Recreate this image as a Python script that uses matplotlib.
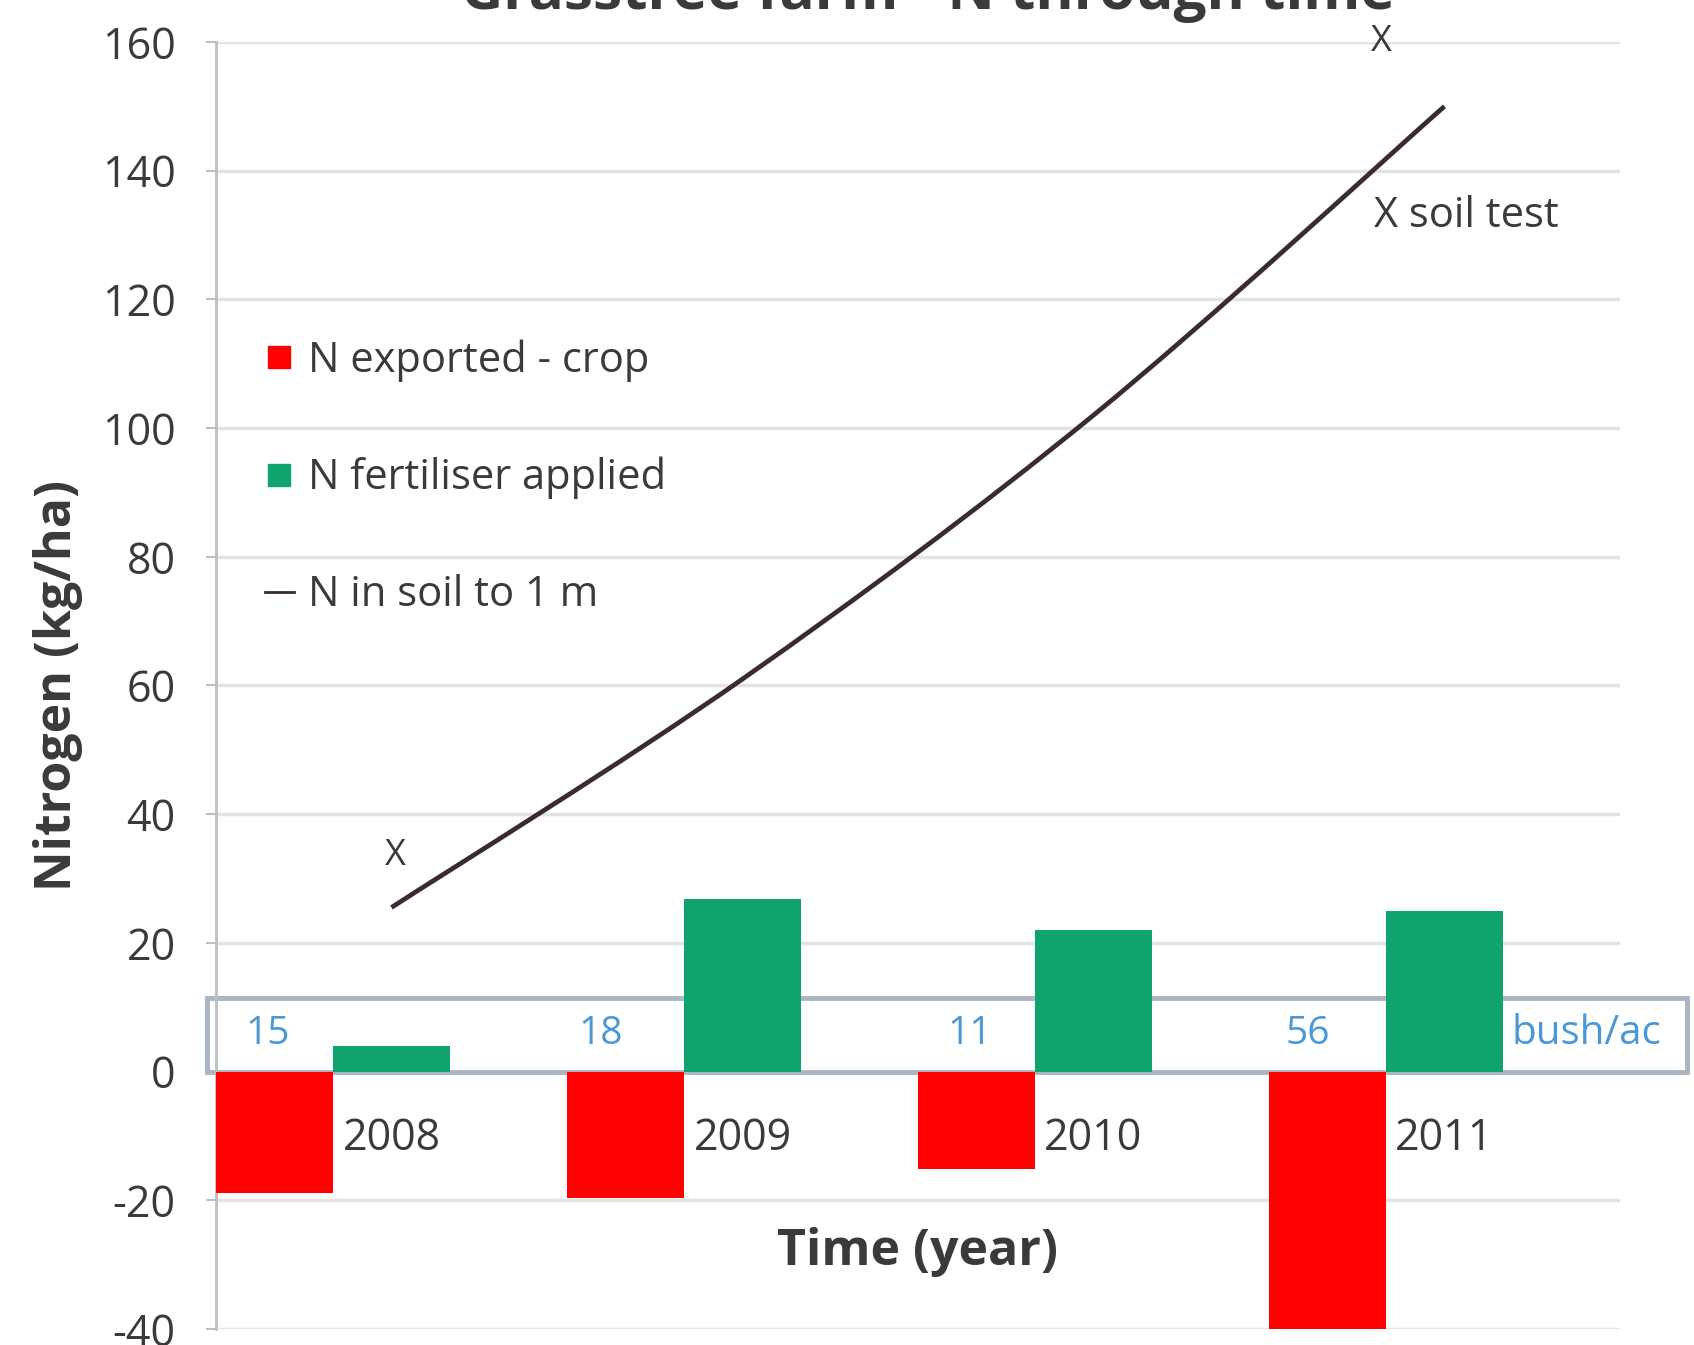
import matplotlib
matplotlib.use("Agg")
import matplotlib.pyplot as plt
from matplotlib.lines import Line2D
from matplotlib.patches import Rectangle, PathPatch
from matplotlib.path import Path

# --- data -------------------------------------------------------------
years = ["2008", "2009", "2010", "2011"]
n_exported = [-18.8, -19.6, -15.1, -41.0]      # kg N/ha removed by crop
n_fertiliser = [3.9, 26.8, 22.0, 25.0]         # kg N/ha applied
n_soil = [25.5, 61.0, 102.0, 150.0]            # kg N/ha in soil to 1 m
yields = ["15", "18", "11", "56"]              # bush/ac
soil_test_x = [0.51, 3.32]
soil_test_y = [33.5, 160.0]
yticks = [-40, -20, 0, 20, 40, 60, 80, 100, 120, 140, 160]

RED = "#ff0000"
GREEN = "#0fa36e"
LINE = "#3b2b2e"
TXT = "#3a3a3a"
BLUE = "#4a98d6"

plt.rcParams["font.family"] = ["Open Sans", "DejaVu Sans"]
plt.rcParams["axes.unicode_minus"] = False


def smooth_path(xs, ys):
    """Cubic Bezier path through the points (spreadsheet-style smoothed line)."""
    pts = list(zip(xs, ys))
    verts = [pts[0]]
    codes = [Path.MOVETO]
    n = len(pts)
    for i in range(n - 1):
        p0 = pts[i - 1] if i > 0 else pts[i]
        p1, p2 = pts[i], pts[i + 1]
        p3 = pts[i + 2] if i + 2 < n else pts[i + 1]
        c1 = (p1[0] + (p2[0] - p0[0]) / 6, p1[1] + (p2[1] - p0[1]) / 6)
        c2 = (p2[0] - (p3[0] - p1[0]) / 6, p2[1] - (p3[1] - p1[1]) / 6)
        verts += [c1, c2, p2]
        codes += [Path.CURVE4] * 3
    return Path(verts, codes)


fig = plt.figure(figsize=(16.94, 13.45), dpi=100)
ax = fig.add_axes([0.1275, 0.0119, 0.8288, 0.9569])

x = list(range(len(years)))
w = 1 / 3
ax.bar([i + w / 2 for i in x], n_exported, width=w, color=RED, zorder=3)
ax.bar([i + 1.5 * w for i in x], n_fertiliser, width=w, color=GREEN, zorder=3)
ax.add_patch(PathPatch(smooth_path([i + 0.5 for i in x], n_soil),
                       facecolor="none", edgecolor=LINE, lw=3.4, zorder=4,
                       capstyle="butt"))

# soil test markers
for sx, sy in zip(soil_test_x, soil_test_y):
    ax.text(sx, sy, "X", ha="center", va="center", fontsize=26, color=TXT,
            zorder=5, clip_on=False)
ax.text(3.30, 133, "X soil test", ha="left", va="center", fontsize=30,
        color=TXT, zorder=5)

# year labels beside the bars
for i, yr in enumerate(years):
    ax.text(i + 0.5, -10.5, yr, ha="center", va="center", fontsize=31,
            color=TXT, zorder=5)

# yield band
band = Rectangle((-0.025, 0), 4.215, 11.4, facecolor="white",
                 edgecolor="#aab5c6", lw=3.5, zorder=2, clip_on=False)
ax.add_patch(band)
yield_x = [0.147, 1.095, 2.147, 3.11]
for yx, yv in zip(yield_x, yields):
    ax.text(yx, 5.9, yv, ha="center", va="center", fontsize=28, color=BLUE,
            zorder=5)
ax.text(3.69, 5.9, "bush/ac", ha="left", va="center", fontsize=29,
        color=BLUE, zorder=5, clip_on=False)

ax.set_xlim(0, 4)
ax.set_ylim(-40, 160)
ax.set_yticks(yticks)
ax.set_xticks([])
ax.tick_params(axis="y", labelsize=31, labelcolor=TXT, length=7, width=1.5,
               color="#bfbfbf", pad=22)
ax.grid(axis="y", color="#e3e3e3", lw=2.5, zorder=0)
ax.set_axisbelow(True)
for s in ["top", "right", "bottom"]:
    ax.spines[s].set_visible(False)
ax.spines["left"].set_color("#bfbfbf")
ax.spines["left"].set_linewidth(2)

ax.set_ylabel("Nitrogen (kg/ha)", fontsize=36, fontweight="bold", color=TXT,
              labelpad=14)
ax.text(2.0, -28, "Time (year)", ha="center", va="center", fontsize=36,
        fontweight="bold", color=TXT)

handles = [
    Line2D([], [], marker="s", ls="none", color=RED, markersize=16),
    Line2D([], [], marker="s", ls="none", color=GREEN, markersize=16),
    Line2D([], [], color=LINE, lw=2),
]
labels = ["N exported - crop", "N fertiliser applied", "N in soil to 1 m"]
ax.legend(handles, labels, loc="upper left", bbox_to_anchor=(0.008, 0.798),
          frameon=False, fontsize=30, handlelength=0.7, handletextpad=0.35,
          labelspacing=1.8, labelcolor=TXT)

fig.text(0.548, 1 - 9 / 1345, "Grasstree farm - N through time",
         ha="center", va="baseline", fontsize=42, fontweight="bold", color=TXT)

fig.savefig("out.png", dpi=100)
